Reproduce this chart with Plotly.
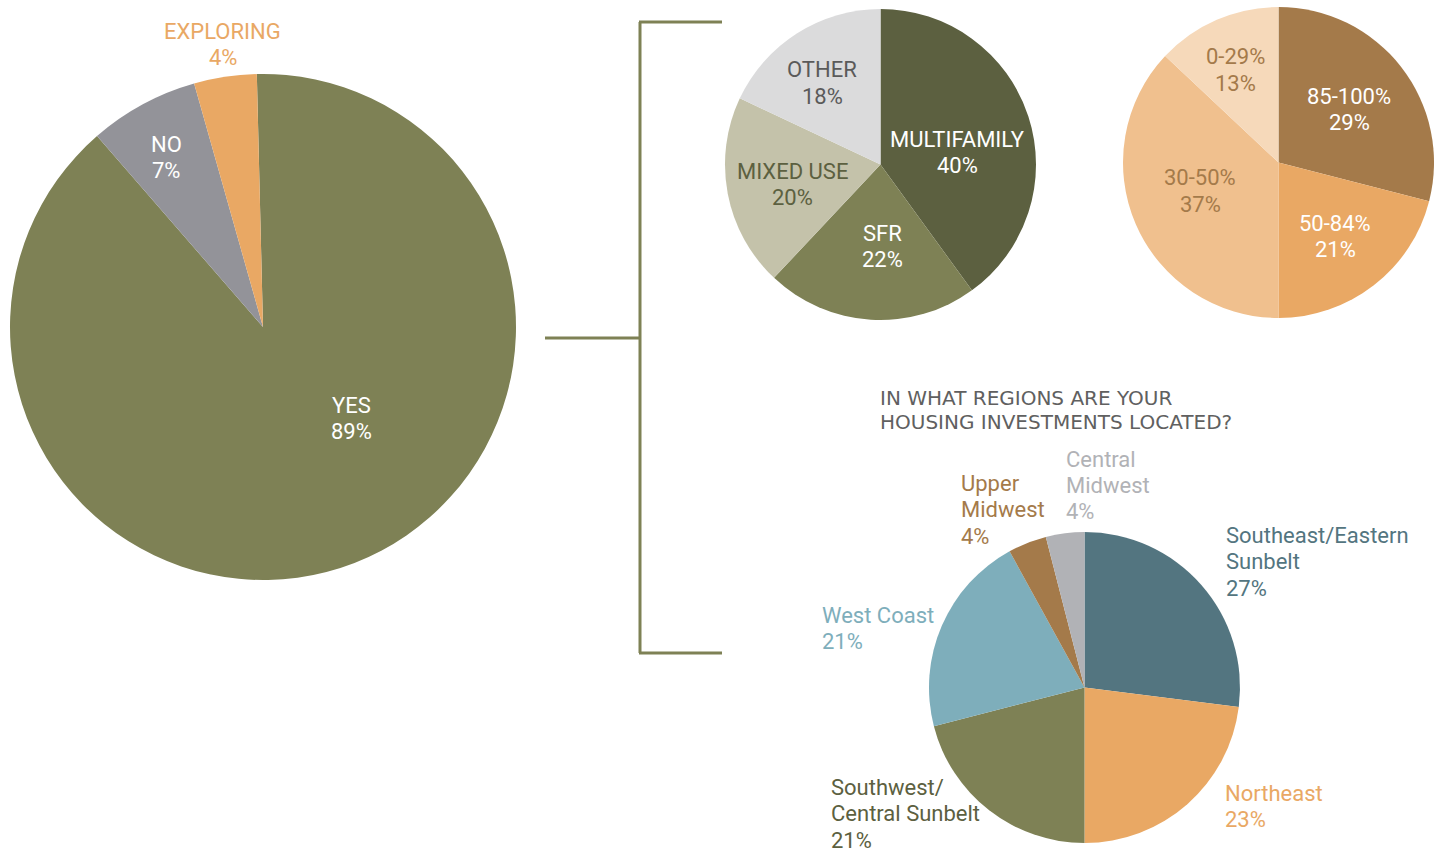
import plotly.graph_objects as go

# ---- data ----
wfh_labels = ["YES", "NO", "EXPLORING"]
wfh_values = [89, 7, 4]

type_labels = ["MULTIFAMILY", "SFR", "MIXED USE", "OTHER"]
type_values = [40, 22, 20, 18]

occ_labels = ["85-100%", "50-84%", "30-50%", "0-29%"]
occ_values = [29, 21, 37, 13]

region_labels = ["Southeast/Eastern<br>Sunbelt", "Northeast", "Southwest/<br>Central Sunbelt",
                 "West Coast", "Upper<br>Midwest", "Central<br>Midwest"]
region_values = [27, 23, 21, 21, 4, 4]

region_title = "IN WHAT REGIONS ARE YOUR<br>HOUSING INVESTMENTS LOCATED?"

# ---- styling ----
W, H = 1442, 856
FONT = "Roboto"
FONT_SIZE = 22
LINE_GAP = 26.5
OLIVE = "#7e8155"
DARK_OLIVE = "#5c6040"
BROWN = "#a47a4a"
ORANGE = "#e9a864"

wfh_colors = [OLIVE, "#939399", ORANGE]
type_colors = [DARK_OLIVE, OLIVE, "#c4c2aa", "#dbdbdc"]
occ_colors = [BROWN, ORANGE, "#f0c08e", "#f6d9ba"]
region_colors = ["#537580", ORANGE, OLIVE, "#7eaebb", BROWN, "#b1b2b6"]


def px_x(x):
    return x / W


def px_y(y):
    return 1 - y / H


def domain(cx, cy, r):
    return dict(x=[px_x(cx - r), px_x(cx + r)], y=[px_y(cy + r), px_y(cy - r)])


def pie(values, labels, colors, cx, cy, r, rotation=0):
    return go.Pie(
        values=values, labels=labels, marker=dict(colors=colors, line=dict(width=0)),
        sort=False, direction="clockwise", rotation=rotation, textinfo="none",
        hoverinfo="label+percent", showlegend=False, domain=domain(cx, cy, r),
    )


fig = go.Figure()
fig.add_trace(pie(wfh_values, wfh_labels, wfh_colors, 263, 327, 253, rotation=-1.4))
fig.add_trace(pie(type_values, type_labels, type_colors, 880.5, 164.5, 155.5))
fig.add_trace(pie(occ_values, occ_labels, occ_colors, 1278.5, 162.5, 155.5))
fig.add_trace(pie(region_values, region_labels, region_colors, 1084.5, 687.5, 155.5))

annotations = []


def label(label_text, value, x, y_first, color, align="center"):
    """Stack the label lines and the percentage, first line centred at y_first (px)."""
    lines = label_text.split("<br>") + [f"{value}%"]
    for k, line_text in enumerate(lines):
        annotations.append(dict(
            text=line_text, x=px_x(x), y=px_y(y_first + k * LINE_GAP), xref="paper", yref="paper",
            xanchor="center" if align == "center" else "left", yanchor="middle",
            align=align, showarrow=False,
            font=dict(family=FONT, size=FONT_SIZE, color=color),
        ))


# label anchor (x, first-line y) in px
wfh_pos = [(351, 405, "white"), (166, 144, "white"), (223, 31, ORANGE)]
for i, (x, y, c) in enumerate(wfh_pos):
    label(wfh_labels[i], wfh_values[i], x, y, c)

type_pos = [(957, 139, "white"), (883, 233, "white"), (792, 171, DARK_OLIVE), (822, 70, "#5a5a5a")]
for i, (x, y, c) in enumerate(type_pos):
    label(type_labels[i], type_values[i], x, y, c)

occ_pos = [(1349, 96, "white"), (1335, 223, "white"), (1200, 178, BROWN), (1235, 57, BROWN)]
for i, (x, y, c) in enumerate(occ_pos):
    label(occ_labels[i], occ_values[i], x, y, c)

region_pos = [(1224, 535), (1223, 793), (829, 787), (820, 615), (959, 483), (1064, 459)]
region_text_colors = ["#537580", ORANGE, DARK_OLIVE, "#7eaebb", BROWN, "#b1b2b6"]
for i, (x, y) in enumerate(region_pos):
    label(region_labels[i], region_values[i], x, y, region_text_colors[i], align="left")

for k, line_text in enumerate(region_title.split("<br>")):
    annotations.append(dict(
        text=line_text, x=px_x(878), y=px_y(398 + k * 24), xref="paper", yref="paper",
        xanchor="left", yanchor="middle", align="left", showarrow=False,
        font=dict(family="DejaVu Sans", size=20, color="#606060"),
    ))

# bracket connecting the main pie to the breakdowns
line = dict(color=OLIVE, width=3)
shapes = [
    dict(type="line", xref="paper", yref="paper", x0=px_x(545), x1=px_x(640), y0=px_y(338), y1=px_y(338), line=line),
    dict(type="line", xref="paper", yref="paper", x0=px_x(640), x1=px_x(640), y0=px_y(22), y1=px_y(653), line=line),
    dict(type="line", xref="paper", yref="paper", x0=px_x(639), x1=px_x(722), y0=px_y(22), y1=px_y(22), line=line),
    dict(type="line", xref="paper", yref="paper", x0=px_x(639), x1=px_x(722), y0=px_y(653), y1=px_y(653), line=line),
]

fig.update_layout(
    width=W, height=H, margin=dict(l=0, r=0, t=0, b=0),
    paper_bgcolor="white", plot_bgcolor="white",
    annotations=annotations, shapes=shapes,
)

fig.write_html("out.html")
